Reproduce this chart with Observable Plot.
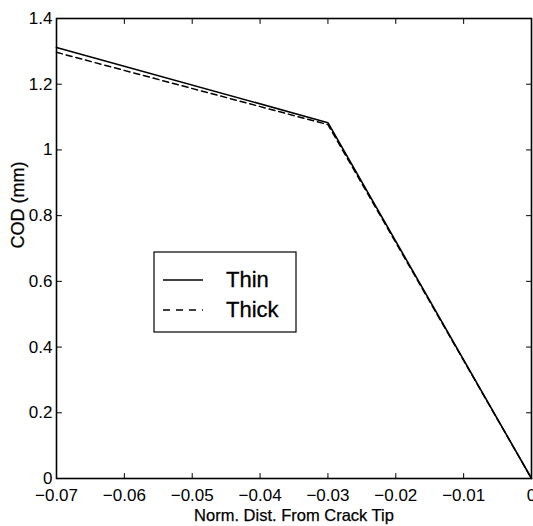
<!DOCTYPE html>
<html>
<head>
<meta charset="utf-8">
<script src="https://cdn.jsdelivr.net/npm/d3@7"></script>
<script src="https://cdn.jsdelivr.net/npm/@observablehq/plot@0.6"></script>
<style>
  html, body { margin: 0; padding: 0; background: #fff; }
  #chart { position: relative; width: 533px; height: 526px; overflow: hidden; }
</style>
</head>
<body>
<div id="chart"></div>
<script>
// ---- data ----
const thinX = [-0.07, -0.03, 0];
const thinY = [1.312, 1.083, 0];
const thickX = [-0.07, -0.03, 0];
const thickY = [1.297, 1.077, 0];
const xTicks = [-0.07, -0.06, -0.05, -0.04, -0.03, -0.02, -0.01, 0];
const xTickLabels = ["−0.07", "−0.06", "−0.05", "−0.04", "−0.03", "−0.02", "−0.01", "0"];
const yTicks = [0, 0.2, 0.4, 0.6, 0.8, 1, 1.2, 1.4];
const yTickLabels = ["0", "0.2", "0.4", "0.6", "0.8", "1", "1.2", "1.4"];
const seriesNames = ["Thin", "Thick"];
const xLabel = "Norm. Dist. From Crack Tip";
const yLabel = "COD (mm)";

const thin = thinX.map((x, i) => ({x, y: thinY[i]}));
const thick = thickX.map((x, i) => ({x, y: thickY[i]}));

const FONT = "'Liberation Sans', Arial, Helvetica, sans-serif";
const tickShape = {draw(ctx, l) { ctx.moveTo(0, 0); ctx.lineTo(0, -l); }};
const tickOpts = {length: 5, anchor: "start", shape: tickShape, stroke: "black", strokeWidth: 1};

const plot = Plot.plot({
  width: 533,
  height: 526,
  marginLeft: 56,
  marginRight: 2,
  marginTop: 18,
  marginBottom: 48,
  style: {fontFamily: FONT, background: "white", color: "black"},
  x: {domain: [-0.07, 0]},
  y: {domain: [0, 1.4]},
  marks: [
    Plot.axisX({ticks: xTicks, tickFormat: (d) => xTickLabels[xTicks.indexOf(d)], tickSize: 0, tickPadding: 10, fontSize: 17, label: null, stroke: "black", strokeWidth: 0.25}),
    Plot.axisY({ticks: yTicks, tickFormat: (d) => yTickLabels[yTicks.indexOf(d)], tickSize: 0, tickPadding: 4, fontSize: 17, label: null, stroke: "black", strokeWidth: 0.25}),
    // inward ticks on all four sides
    Plot.vector(xTicks, {x: d => d, frameAnchor: "bottom", rotate: 0, ...tickOpts}),
    Plot.vector(xTicks, {x: d => d, frameAnchor: "top", rotate: 180, ...tickOpts}),
    Plot.vector(yTicks, {y: d => d, frameAnchor: "left", rotate: 90, ...tickOpts}),
    Plot.vector(yTicks, {y: d => d, frameAnchor: "right", rotate: 270, ...tickOpts}),
    Plot.line(thin, {x: "x", y: "y", stroke: "black", strokeWidth: 1.6}),
    Plot.line(thick, {x: "x", y: "y", stroke: "black", strokeWidth: 1.5, strokeDasharray: "6,4"}),
    Plot.frame({stroke: "black", strokeWidth: 1.6}),
    Plot.text([xLabel], {text: d => d, frameAnchor: "bottom", dy: 42, fontSize: 16.5, fill: "black", stroke: "black", strokeWidth: 0.25}),
    Plot.text([yLabel], {text: d => d, frameAnchor: "left", dx: -38, rotate: -90, fontSize: 18, fill: "black", stroke: "black", strokeWidth: 0.25})
  ]
});
document.getElementById("chart").appendChild(plot);

// legend box
const svg = d3.select(plot);
const lg = svg.append("g").attr("font-family", FONT).attr("text-anchor", "start");
lg.append("rect").attr("x", 154).attr("y", 252).attr("width", 142).attr("height", 80)
  .attr("fill", "white").attr("stroke", "black").attr("stroke-width", 1.2);
const rows = [{name: seriesNames[0], dash: null, y: 280}, {name: seriesNames[1], dash: "7,6", y: 310}];
rows.forEach(r => {
  lg.append("line").attr("x1", 163).attr("x2", 203).attr("y1", r.y).attr("y2", r.y)
    .attr("stroke", "black").attr("stroke-width", 1.4).attr("stroke-dasharray", r.dash);
  lg.append("text").attr("x", 226).attr("y", r.y + 7).attr("font-size", 22).attr("fill", "black")
    .attr("stroke", "black").attr("stroke-width", 0.3).attr("text-anchor", "start").text(r.name);
});
</script>
</body>
</html>
